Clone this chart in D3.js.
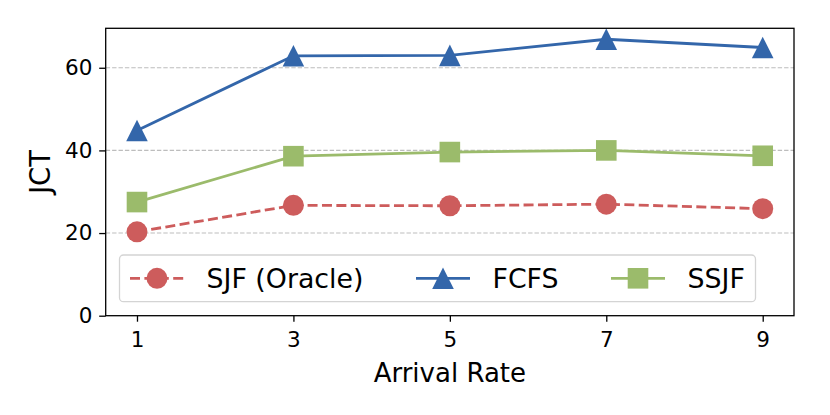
<!DOCTYPE html>
<html><head><meta charset="utf-8">
<script src="https://cdn.jsdelivr.net/npm/d3@7"></script>
<style>body{margin:0;background:#fff}svg{display:block;font-family:"DejaVu Sans",sans-serif}</style>
</head><body><svg id="c" width="830" height="415"></svg>
<script>
const arrivalRates = [1, 3, 5, 7, 9];
const sjfOracle = [20.3, 26.7, 26.6, 27.0, 25.9];
const fcfs = [44.8, 62.9, 63.0, 66.9, 64.9];
const ssjf = [27.5, 38.6, 39.6, 40.0, 38.7];
const yTicks = [0, 20, 40, 60];
const seriesNames = ["SJF (Oracle)", "FCFS", "SSJF"];

const svg = d3.select("#c");
const L = 105.7, R = 794, T = 28.3, B = 315.7;
const x = d3.scaleLinear().domain([0.6, 9.4]).range([L, R]);
const y = d3.scaleLinear().domain([0, 69.55]).range([B, T]);

// grid
svg.append("g").selectAll("line").data(yTicks.filter(d => d > 0)).join("line")
  .attr("x1", L).attr("x2", R).attr("y1", d => y(d)).attr("y2", d => y(d))
  .attr("stroke", "#bdbdbd").attr("stroke-width", 1.1).attr("stroke-dasharray", "4.4,2");

const series = [
  {name: seriesNames[0], vals: sjfOracle, color: "#CD5C5C", dash: "10,4.4", marker: "circle"},
  {name: seriesNames[1], vals: fcfs, color: "#3366AA", dash: null, marker: "triangle"},
  {name: seriesNames[2], vals: ssjf, color: "#9BBB6B", dash: null, marker: "square"}
];
function drawMarker(g, s, cx, cy) {
  if (s.marker === "circle") {
    g.append("circle").attr("cx", cx).attr("cy", cy).attr("r", 10.5).attr("fill", s.color);
  } else if (s.marker === "square") {
    g.append("rect").attr("x", cx - 10.3).attr("y", cy - 10.3).attr("width", 20.6).attr("height", 20.6).attr("fill", s.color);
  } else {
    const h = 10.8;
    g.append("path").attr("d", `M${cx},${cy - h}L${cx + h},${cy + h}L${cx - h},${cy + h}Z`).attr("fill", s.color);
  }
}
const line = d3.line().x((d, i) => x(arrivalRates[i])).y(d => y(d));
series.forEach(s => {
  const g = svg.append("g");
  g.append("path").attr("d", line(s.vals)).attr("fill", "none").attr("stroke", s.color)
    .attr("stroke-width", 2.8).attr("stroke-dasharray", s.dash);
  s.vals.forEach((v, i) => drawMarker(g, s, x(arrivalRates[i]), y(v)));
});

// axes
const xAxis = d3.axisBottom(x).tickValues(arrivalRates).tickSize(6).tickPadding(5).tickFormat(d3.format("d"));
const yAxis = d3.axisLeft(y).tickValues(yTicks).tickSize(6.5).tickPadding(6.8);
const gx = svg.append("g").attr("transform", `translate(0,${B})`).call(xAxis);
const gy = svg.append("g").attr("transform", `translate(${L},0)`).call(yAxis);
[gx, gy].forEach(g => {
  g.select(".domain").remove();
  g.selectAll(".tick line").attr("stroke", "#000").attr("stroke-width", 1.3);
  g.selectAll(".tick text").attr("font-size", 21.5).attr("fill", "#000").attr("font-family", "DejaVu Sans");
});
gx.selectAll(".tick text").attr("y", 31).attr("dy", 0);
svg.append("rect").attr("x", L).attr("y", T).attr("width", R - L).attr("height", B - T)
  .attr("fill", "none").attr("stroke", "#000").attr("stroke-width", 1.3);

svg.append("text").attr("x", (L + R) / 2).attr("y", 381.5).attr("text-anchor", "middle")
  .attr("font-size", 26).text("Arrival Rate");
svg.append("text").attr("transform", `translate(50,${(T + B) / 2}) rotate(-90)`).attr("text-anchor", "middle")
  .attr("font-size", 27.5).text("JCT");

// legend
const lg = svg.append("g");
lg.append("rect").attr("x", 119.5).attr("y", 255).attr("width", 636).attr("height", 46.7).attr("rx", 4)
  .attr("fill", "#fff").attr("fill-opacity", 0.8).attr("stroke", "#d4d4d4").attr("stroke-width", 1.3);
const legX = [130, 416, 611];
const ly = 278.3;
series.forEach((s, i) => {
  const x0 = legX[i];
  lg.append("line").attr("x1", x0).attr("x2", x0 + 54).attr("y1", ly).attr("y2", ly)
    .attr("stroke", s.color).attr("stroke-width", 2.8).attr("stroke-dasharray", s.dash);
  drawMarker(lg, s, x0 + 27, ly);
  lg.append("text").attr("x", x0 + 76.5).attr("y", ly + 9.5).attr("font-size", 26.8).text(s.name);
});
</script></body></html>
